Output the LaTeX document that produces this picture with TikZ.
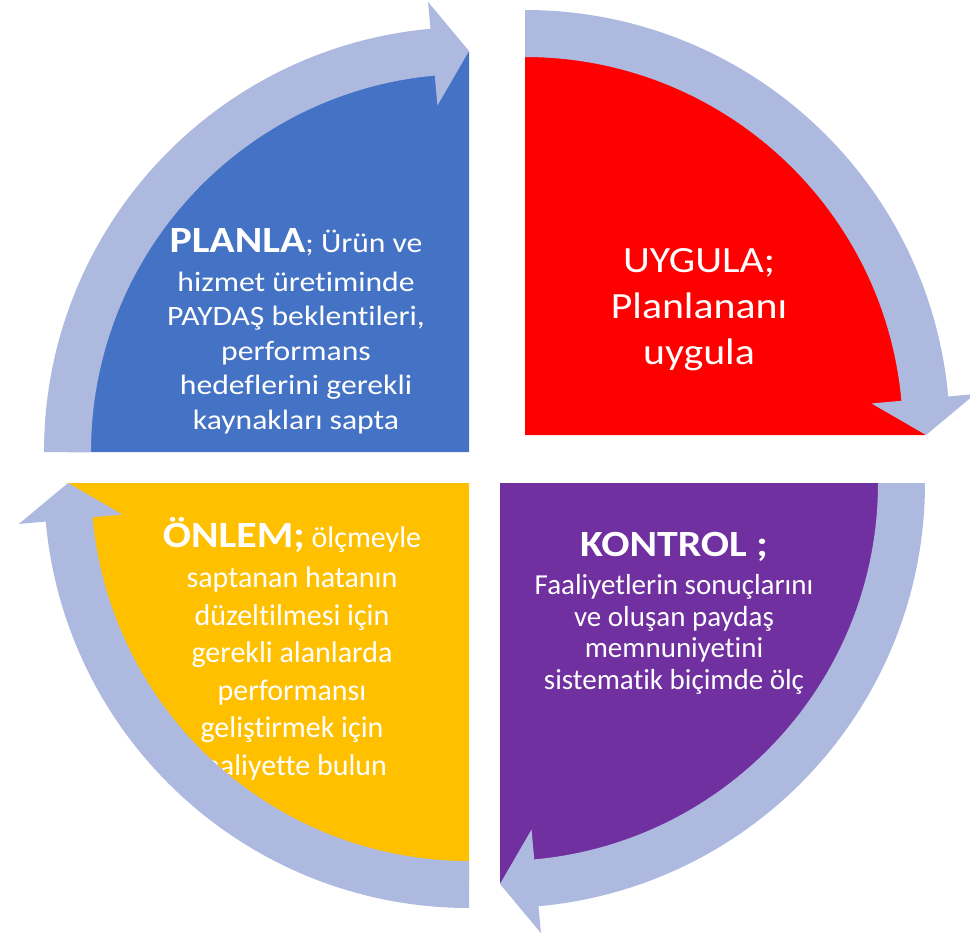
\documentclass[tikz,border=0pt]{standalone}
\usepackage{fontspec}
\setmainfont{Carlito}[Ligatures=NoCommon]
\newfontfamily\widefont{Carlito}[FakeStretch=1.13, Ligatures=NoCommon]
\usetikzlibrary{calc}
\definecolor{qblue}{HTML}{4472C4}
\definecolor{qred}{HTML}{FF0000}
\definecolor{qyellow}{HTML}{FFC000}
\definecolor{qpurple}{HTML}{7030A0}
\definecolor{bandcol}{RGB}{173,185,223}
\newcommand\cycarrow[2]{%
  \pgfmathsetmacro\cyA{#2}\pgfmathsetmacro\cyB{#2+84.8}\pgfmathsetmacro\cyC{#2+90}%
  \fill[bandarrow] ($(#1)+(\cyA:425)$) arc[start angle=\cyA, end angle=\cyB, radius=425]
    -- ($(#1)+(\cyB:452)$) -- ($(#1)+(\cyC:401)$) -- ($(#1)+(\cyB:348)$)
    -- ($(#1)+(\cyB:378)$) arc[start angle=\cyB, end angle=\cyA, radius=378] -- cycle;}
\newcommand\qtitle[1]{{\widefont\fontsize{37}{37}\selectfont\bfseries #1}}
\begin{document}
\begin{tikzpicture}[x=1pt,y=-1pt,
  bandarrow/.style={fill=bandcol},
  qtext/.style={text=white, align=center, inner sep=0pt, anchor=north}]
\useasboundingbox (0,0) rectangle (970,938);
\coordinate (cB) at (469,452);
\coordinate (cR) at (525,435);
\coordinate (cP) at (500,483);
\coordinate (cY) at (469,483);
% quadrants
\fill[qblue] (cB) -- ($(cB)+(180:400)$) arc[start angle=180, end angle=270, radius=400] -- cycle;
\fill[qred] (cR) -- ($(cR)+(270:400)$) arc[start angle=270, end angle=360, radius=400] -- cycle;
\fill[qpurple] (cP) -- ($(cP)+(0:400)$) arc[start angle=0, end angle=90, radius=400] -- cycle;
\fill[qyellow] (cY) -- ($(cY)+(90:400)$) arc[start angle=90, end angle=180, radius=400] -- cycle;
% texts
\node[qtext, font=\widefont\fontsize{28}{34.5}\selectfont] (tplan) at (296,228)
  {\qtitle{PLANLA}; Ürün ve\\[4.5pt]
   hizmet üretiminde\\ PAYDAŞ beklentileri,\\ performans\\ hedeflerini gerekli\\ kaynakları sapta};
\node[qtext, font=\widefont\fontsize{37}{46}\selectfont] (tuyg) at (699,248)
  {UYGULA;\\ Planlananı\\ uygula};
\node[qtext, font=\fontsize{29}{31.5}\selectfont] (tkon) at (674,532)
  {\qtitle{KONTROL ;}\\[7pt]
   Faaliyetlerin sonuçlarını\\ ve oluşan paydaş\\ memnuniyetini\\ sistematik biçimde ölç};
\node[qtext, font=\fontsize{30}{37.5}\selectfont] (tonl) at (292,517)
  {\qtitle{ÖNLEM;} ölçmeyle\\[3pt]
   saptanan hatanın\\ düzeltilmesi için\\ gerekli alanlarda\\ performansı\\ geliştirmek için\\ faaliyette bulun};
% cycle arrows
\cycarrow{cB}{180}
\cycarrow{cR}{270}
\cycarrow{cP}{0}
\cycarrow{cY}{90}
\end{tikzpicture}
\end{document}
